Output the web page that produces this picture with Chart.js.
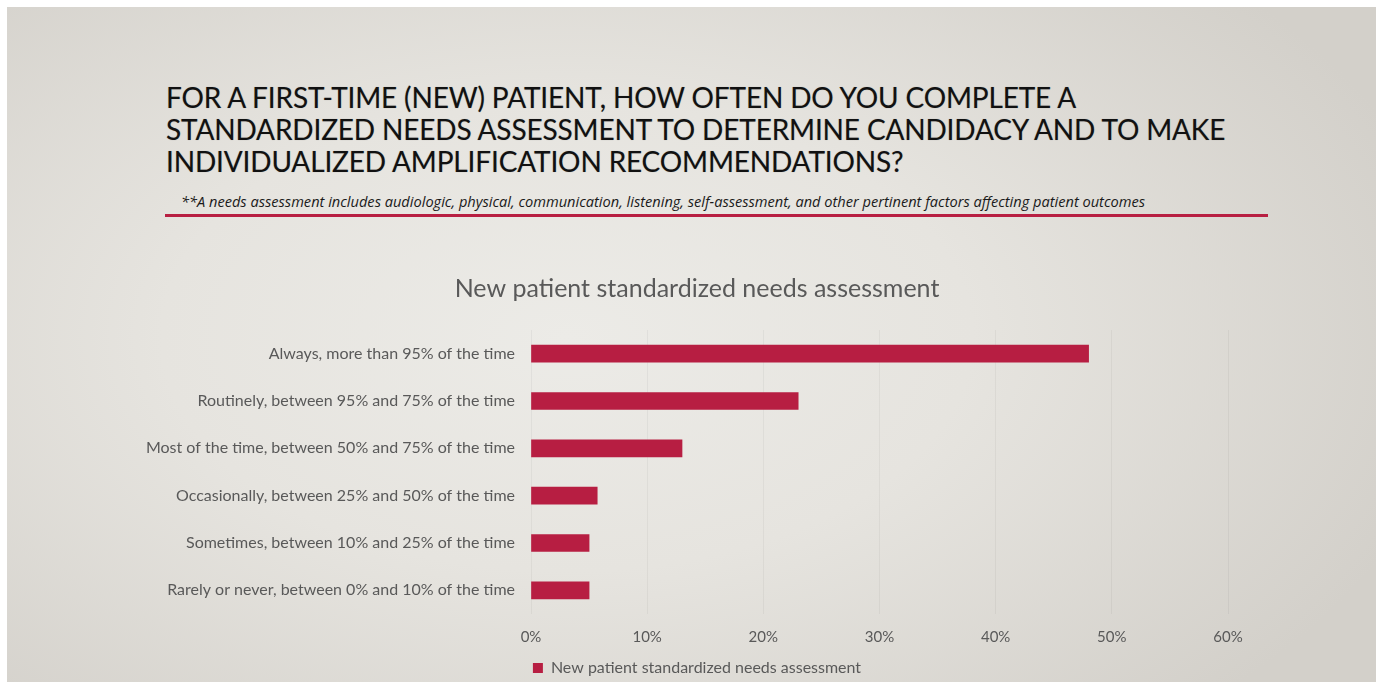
<!DOCTYPE html>
<html lang="en">
<head>
<meta charset="utf-8">
<title>New patient standardized needs assessment</title>
<script src="https://cdn.jsdelivr.net/npm/chart.js"></script>
<style>
  html, body { margin: 0; padding: 0; background: #fff; }
  body { width: 1376px; height: 682px; position: relative; overflow: hidden; font-family: Lato, "Open Sans", sans-serif; }
  .slide {
    position: absolute; left: 7px; top: 7px; right: 0; bottom: 0;
    background: radial-gradient(ellipse 900px 520px at 560px 330px, #ecebe7 0%, #e6e4df 45%, #d3d0ca 100%);
  }
  .slide__title {
    position: absolute; left: 166px; top: 81px; margin: 0;
    font-size: 28px; line-height: 32px; font-weight: 400; color: #111;
    letter-spacing: -0.15px; text-shadow: 0 0 1px rgba(0,0,0,.3);
  }
  .slide__note {
    position: absolute; left: 181px; top: 191px; margin: 0;
    font-family: "Open Sans", Lato, sans-serif;
    font-size: 14.6px; font-style: italic; color: #1a1a1a;
  }
  .slide__rule { position: absolute; left: 165px; top: 214px; width: 1103px; height: 3px; background: #b81f42; }
  #chartWrap { position: absolute; left: 0; top: 0; width: 1376px; height: 690px; }
</style>
</head>
<body>
<div class="slide"></div>
<h1 class="slide__title">FOR A FIRST-TIME (NEW) PATIENT, HOW OFTEN DO YOU COMPLETE A<br>STANDARDIZED NEEDS ASSESSMENT TO DETERMINE CANDIDACY AND TO MAKE<br>INDIVIDUALIZED AMPLIFICATION RECOMMENDATIONS?</h1>
<p class="slide__note">**A needs assessment includes audiologic, physical, communication, listening, self-assessment, and other pertinent factors affecting patient outcomes</p>
<div class="slide__rule"></div>
<div id="chartWrap"><canvas id="chart" width="1376" height="690"></canvas></div>

<script>
// survey answers, top to bottom
const categories = [
  "Always, more than 95% of the time",
  "Routinely, between 95% and 75% of the time",
  "Most of the time, between 50% and 75% of the time",
  "Occasionally, between 25% and 50% of the time",
  "Sometimes, between 10% and 25% of the time",
  "Rarely or never, between 0% and 10% of the time",
];
const shares = [48, 23, 13, 5.7, 5, 5];   // % of respondents
const xTicks = [0, 10, 20, 30, 40, 50, 60];
const seriesName = "New patient standardized needs assessment";

const BAR = "#b71e42", TXT = "#595959", FONT = "Lato, 'Open Sans', sans-serif";

new Chart(document.getElementById("chart"), {
  type: "bar",
  data: {
    labels: categories,
    datasets: [{ label: seriesName, data: shares, backgroundColor: BAR, borderWidth: 0, barThickness: 17 }],
  },
  options: {
    indexAxis: "y",
    responsive: false, animation: false,
    devicePixelRatio: 1,
    layout: { padding: { left: 140, right: 122, top: 0, bottom: 4 } },
    plugins: {
      title: {
        display: true, text: seriesName, color: TXT,
        font: { family: FONT, size: 25, weight: "normal" },
        padding: { top: 274, bottom: 26 },
      },
      legend: {
        display: true, position: "bottom",
        labels: { color: TXT, font: { family: FONT, size: 16 }, boxWidth: 10, boxHeight: 10, padding: 8 },
      },
      tooltip: { enabled: false },
    },
    scales: {
      x: {
        min: 0, max: 60,
        afterBuildTicks: (s) => { s.ticks = xTicks.map((v) => ({ value: v })); },
        afterFit: (s) => { s.height = 38; },
        grid: { color: "rgba(0,0,0,0.045)", drawTicks: false },
        border: { display: false },
        ticks: { color: TXT, font: { family: FONT, size: 15 }, padding: 14, callback: (v) => v + "%" },
      },
      y: {
        afterFit: (s) => { s.width = 391; },
        grid: { display: false, drawTicks: false },
        border: { display: false },
        ticks: { color: TXT, font: { family: FONT, size: 16 }, padding: 16 },
      },
      // empty strip on the right so the title and legend sit centred over the slide
      yRight: {
        type: "category", position: "right",
        afterFit: (s) => { s.width = 26; },
        grid: { display: false, drawTicks: false },
        border: { display: false },
        ticks: { display: false },
      },
    },
  },
});
</script>
</body>
</html>
